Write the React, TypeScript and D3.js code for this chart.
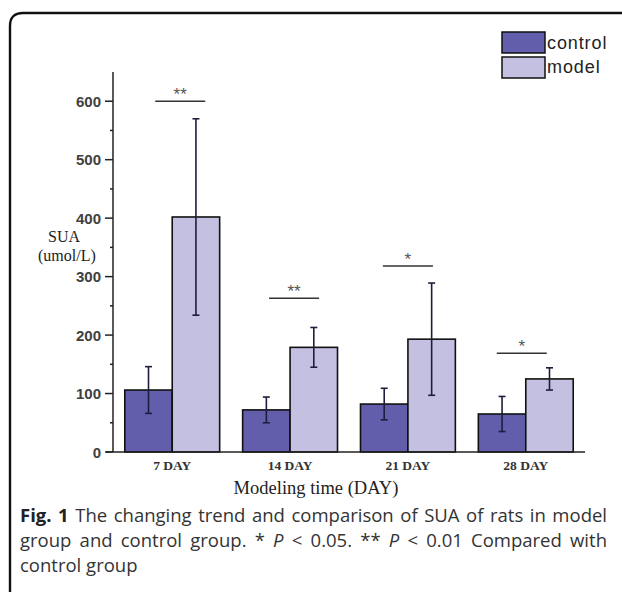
import { useEffect, useRef } from "react";
import * as d3 from "d3";

const days = ["7 DAY", "14 DAY", "21 DAY", "28 DAY"];
const controlMean = [106, 72, 82, 65];
const controlSd = [40, 22, 27, 30];
const modelMean = [402, 179, 193, 125];
const modelSd = [168, 34, 96, 19];
const sigLabels = ["**", "**", "*", "*"];
const sigLevel = [600, 263, 318, 169];
const majorTicks = [0, 100, 200, 300, 400, 500, 600];
const minorTicks = [50, 150, 250, 350, 450, 550];
const seriesNames = ["control", "model"];
const seriesColors = ["#625eab", "#c3c0e1"];
const captionLines = [
  "The changing trend and comparison of SUA of rats in model",
  "group and control group. * |P| < 0.05. ** |P| < 0.01 Compared with",
  "control group",
];

export default function App() {
  const svgElem = useRef<SVGSVGElement>(null);

  useEffect(() => {
    const svg = d3.select(svgElem.current);
    svg.selectAll("*").remove();

    const y = d3.scaleLinear().domain([0, 650]).range([452, 72]);
    const x0 = d3
      .scaleBand()
      .domain(days)
      .range([113, 585])
      .paddingInner(0.195)
      .paddingOuter(0.1);
    const x1 = d3
      .scaleBand()
      .domain(seriesNames)
      .range([0, x0.bandwidth()]);

    // frame round the figure
    svg
      .append("path")
      .attr("d", "M10,592 V26 Q10,13 23,13 H622")
      .attr("fill", "none")
      .attr("stroke", "#111")
      .attr("stroke-width", 2.4);

    // bars
    const series = [
      { name: "control", mean: controlMean, sd: controlSd },
      { name: "model", mean: modelMean, sd: modelSd },
    ];
    series.forEach((s, si) => {
      const g = svg.append("g");
      days.forEach((d, i) => {
        const bx = x0(d)! + x1(s.name)!;
        g.append("rect")
          .attr("x", bx)
          .attr("y", y(s.mean[i]))
          .attr("width", x1.bandwidth())
          .attr("height", y(0) - y(s.mean[i]))
          .attr("fill", seriesColors[si])
          .attr("stroke", "#111")
          .attr("stroke-width", 1.6);
      });
    });

    // error bars
    series.forEach((s) => {
      days.forEach((d, i) => {
        const cx = x0(d)! + x1(s.name)! + x1.bandwidth() / 2;
        const hi = y(s.mean[i] + s.sd[i]);
        const lo = y(s.mean[i] - s.sd[i]);
        const eb = svg
          .append("g")
          .attr("stroke", "#1d1d3d")
          .attr("stroke-width", 1.6);
        eb.append("line").attr("x1", cx).attr("x2", cx).attr("y1", hi).attr("y2", lo);
        [hi, lo].forEach((yy) =>
          eb
            .append("line")
            .attr("x1", cx - 3.5)
            .attr("x2", cx + 3.5)
            .attr("y1", yy)
            .attr("y2", yy)
        );
      });
    });

    // significance marks
    days.forEach((d, i) => {
      const cx = x0(d)! + x0.bandwidth() / 2 + [8, 4, 0, -4][i];
      const yy = y(sigLevel[i]);
      svg
        .append("line")
        .attr("x1", cx - 25)
        .attr("x2", cx + 25)
        .attr("y1", yy)
        .attr("y2", yy)
        .attr("stroke", "#333")
        .attr("stroke-width", 1.5);
      svg
        .append("text")
        .attr("x", cx)
        .attr("y", yy - 1)
        .attr("text-anchor", "middle")
        .attr("font-family", "Liberation Sans, Arial, sans-serif")
        .attr("font-size", 17)
        .attr("fill", "#555")
        .text(sigLabels[i]);
    });

    // y axis
    const ax = svg.append("g").attr("stroke", "#222").attr("stroke-width", 1.5);
    ax.append("line").attr("x1", 113).attr("x2", 113).attr("y1", y(650)).attr("y2", y(0));
    majorTicks.forEach((t) =>
      ax.append("line").attr("x1", 105).attr("x2", 113).attr("y1", y(t)).attr("y2", y(t))
    );
    minorTicks.forEach((t) =>
      ax.append("line").attr("x1", 110).attr("x2", 113).attr("y1", y(t)).attr("y2", y(t))
    );
    svg
      .append("g")
      .selectAll("text")
      .data(majorTicks)
      .join("text")
      .attr("x", 101)
      .attr("y", (d) => y(d) + 5.5)
      .attr("text-anchor", "end")
      .attr("font-family", "Liberation Sans, Arial, sans-serif")
      .attr("font-size", 15)
      .attr("font-weight", "bold")
      .attr("fill", "#404040")
      .text((d) => d);

    // x axis
    ax.append("line").attr("x1", 106).attr("x2", 585).attr("y1", y(0)).attr("y2", y(0));
    svg
      .append("g")
      .selectAll("text")
      .data(days)
      .join("text")
      .attr("x", (d) => x0(d)! + x0.bandwidth() / 2)
      .attr("y", 470)
      .attr("text-anchor", "middle")
      .attr("font-family", "Liberation Serif, Times New Roman, serif")
      .attr("font-size", 13.5)
      .attr("font-weight", "bold")
      .attr("fill", "#333")
      .text((d) => d);

    svg
      .append("text")
      .attr("x", 316)
      .attr("y", 494)
      .attr("text-anchor", "middle")
      .attr("font-family", "Liberation Serif, Times New Roman, serif")
      .attr("font-size", 18.5)
      .attr("fill", "#222")
      .text("Modeling time (DAY)");

    // y title
    const yt = svg
      .append("text")
      .attr("font-family", "Liberation Serif, Times New Roman, serif")
      .attr("font-size", 16)
      .attr("fill", "#222");
    yt.append("tspan").attr("x", 48).attr("y", 242).text("SUA");
    yt.append("tspan").attr("x", 38).attr("y", 261).text("(umol/L)");

    // legend
    seriesNames.forEach((n, i) => {
      svg
        .append("rect")
        .attr("x", 502)
        .attr("y", 32 + i * 25)
        .attr("width", 43)
        .attr("height", 21)
        .attr("fill", seriesColors[i])
        .attr("stroke", "#111")
        .attr("stroke-width", 1.5);
      svg
        .append("text")
        .attr("x", 547)
        .attr("y", 49 + i * 24)
        .attr("font-family", "Liberation Sans, Arial, sans-serif")
        .attr("font-size", 18)
        .attr("letter-spacing", 0.9)
        .attr("fill", "#222")
        .text(n);
    });

    // caption, justified by stretching word gaps
    const capLeft = 20;
    const capRight = 607;
    captionLines.forEach((line, li) => {
      const t = svg
        .append("text")
        .attr("x", capLeft)
        .attr("y", 522 + li * 25)
        .attr("font-family", "Open Sans, Noto Sans, sans-serif")
        .attr("font-size", 18.5)
        .attr("fill", "#333");
      if (li === 0) {
        t.append("tspan").attr("font-weight", "bold").attr("fill", "#222").text("Fig. 1 ");
      }
      line.split("|").forEach((part, pi) => {
        t.append("tspan")
          .attr("font-style", pi % 2 === 1 ? "italic" : "normal")
          .text(part);
      });
      if (li < 2) {
        const node = t.node() as SVGTextElement;
        const w = node.getComputedTextLength();
        const full = (li === 0 ? "Fig. 1 " : "") + line;
        const gaps = full.split(" ").length - 1;
        t.attr("word-spacing", (capRight - capLeft - w) / gaps);
      }
    });
  }, []);

  return (
    <svg
      ref={svgElem}
      width={622}
      height={594}
      style={{ position: "absolute", left: 0, top: 0, background: "#fff" }}
    ></svg>
  );
}
